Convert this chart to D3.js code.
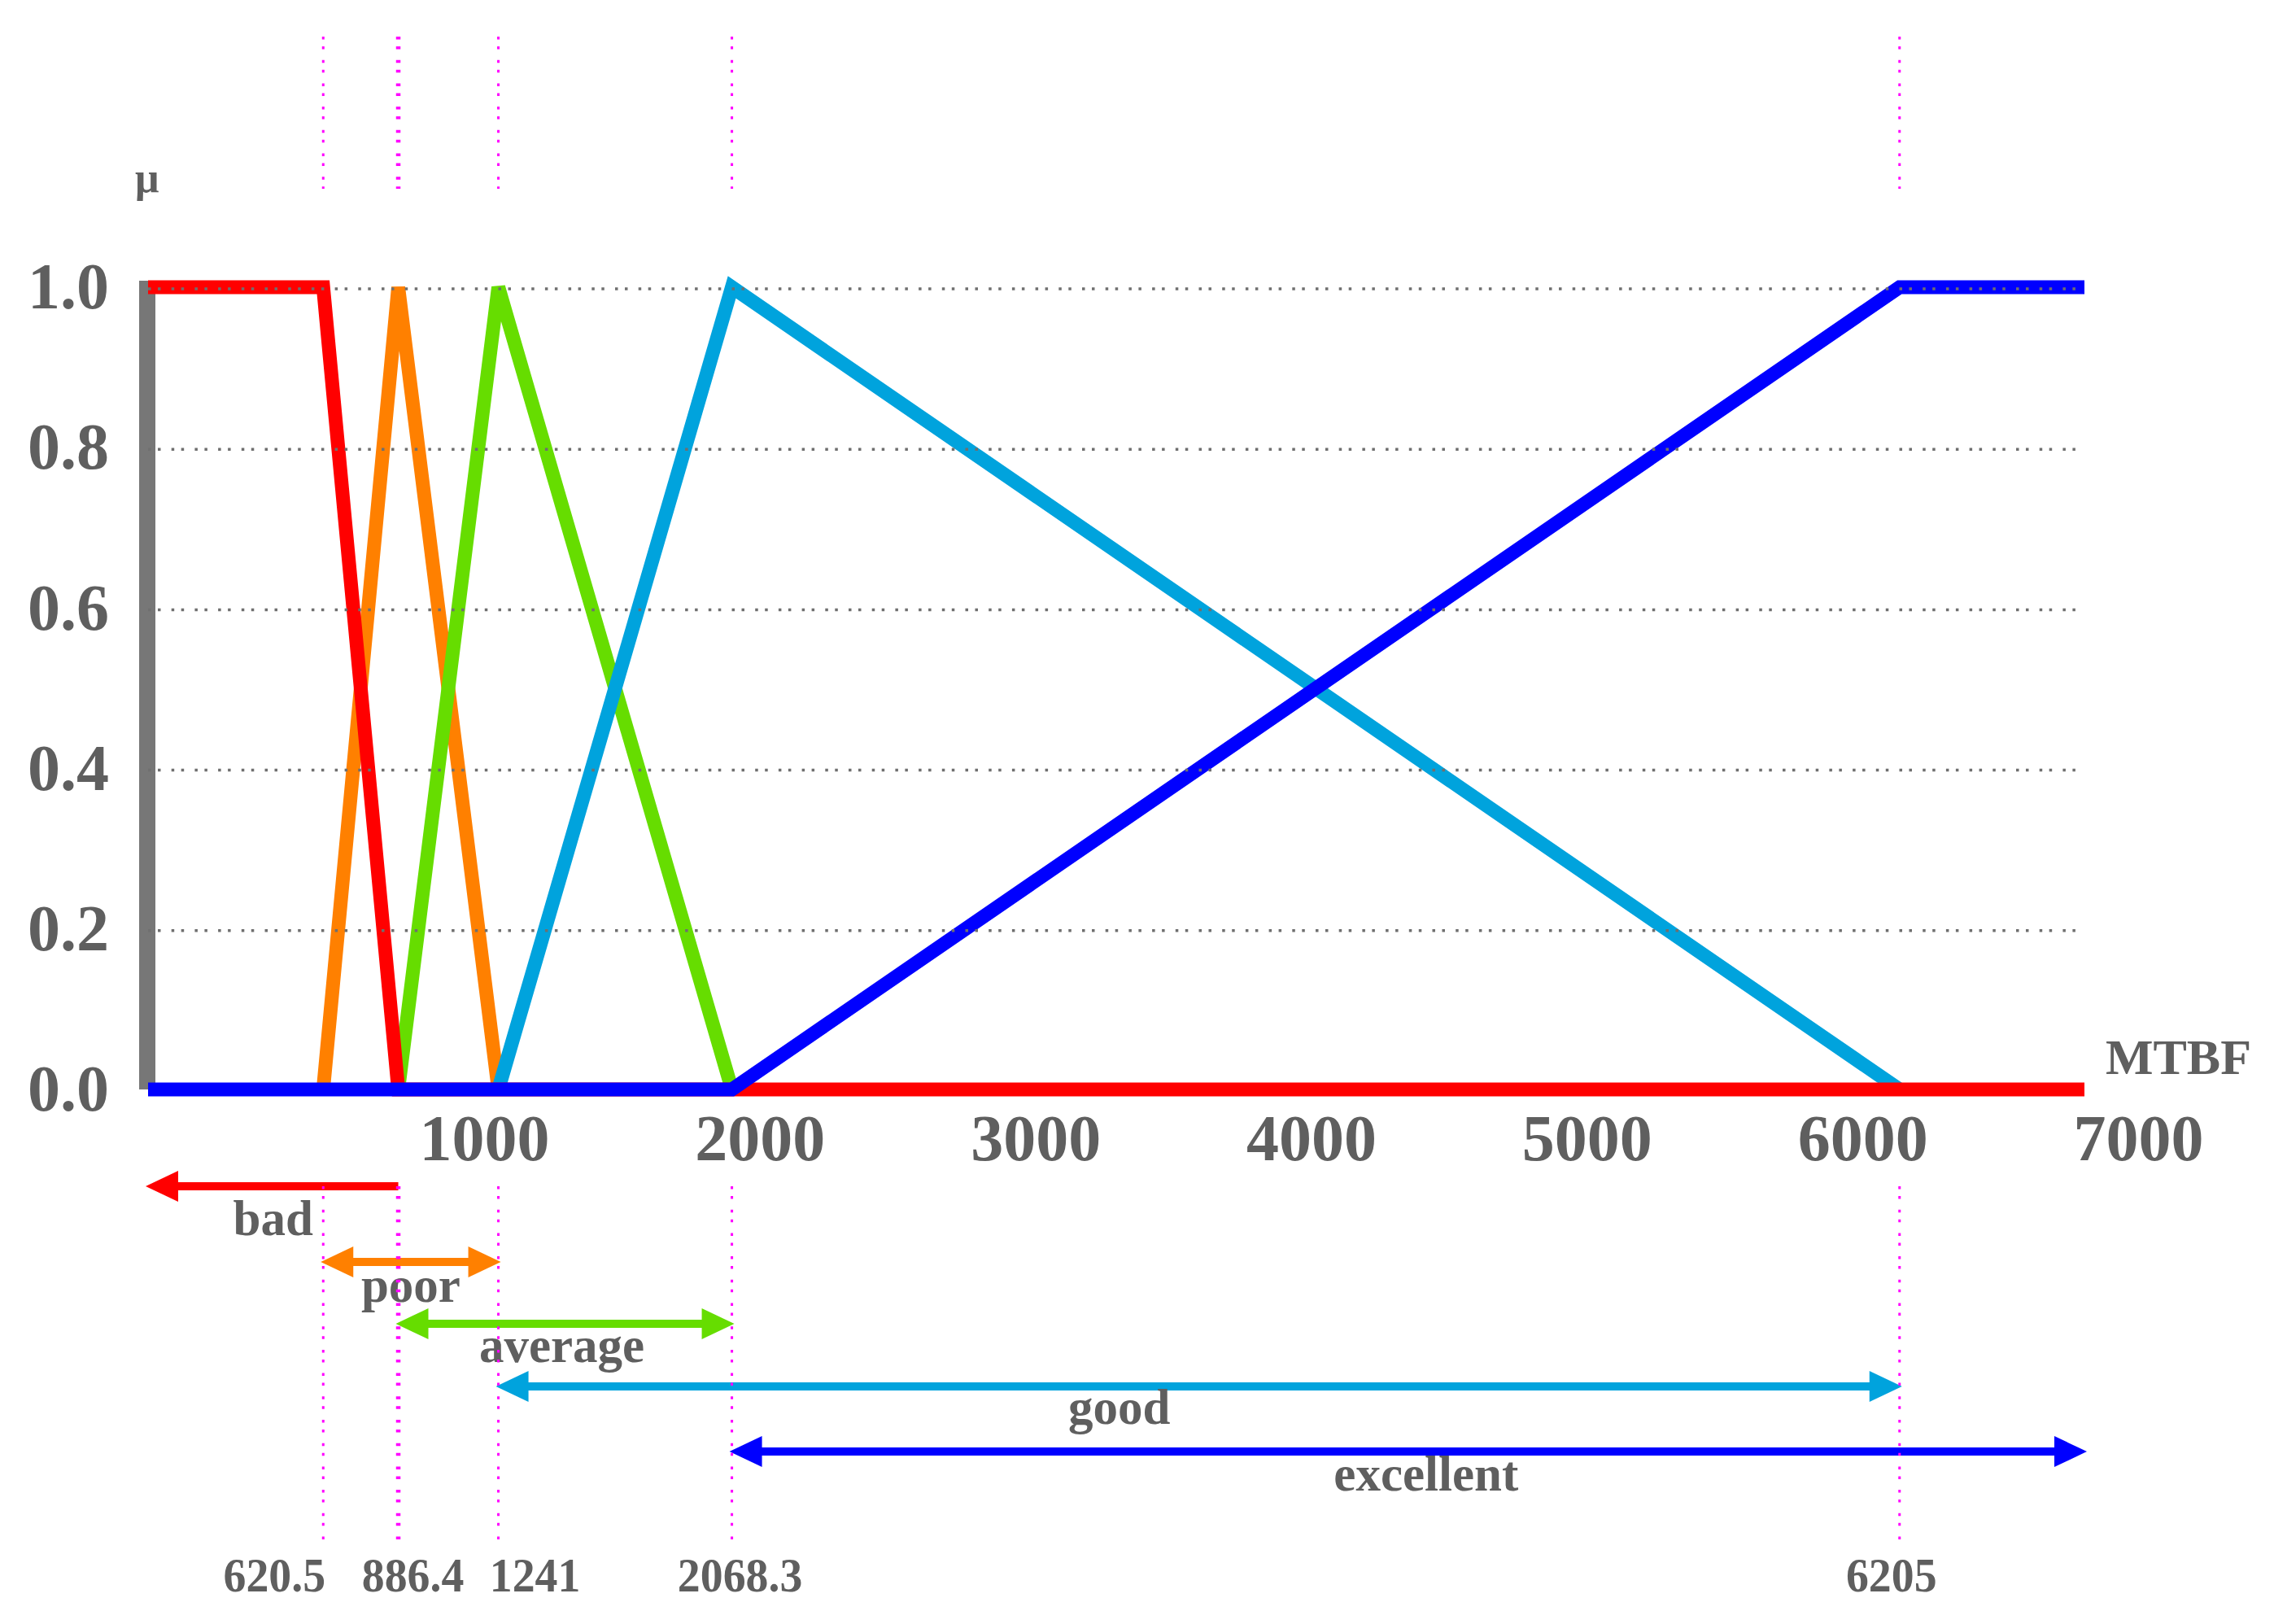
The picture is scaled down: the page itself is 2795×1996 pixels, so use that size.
<!DOCTYPE html>
<html>
<head>
<meta charset="utf-8">
<script src="https://cdn.jsdelivr.net/npm/d3@7"></script>
<style>
body { margin: 0; background: #fff; }
text { font-family: "Liberation Serif", "Times New Roman", serif; font-weight: bold; fill: #5f5f5f; }
</style>
</head>
<body>
<div id="container"></div>
<script>
// membership functions of MTBF, breakpoints as [MTBF, mu]
var badPts = [[0, 1], [620.5, 1], [886.4, 0], [6860, 0]];
var poorPts = [[620.5, 0], [886.4, 1], [1241, 0]];
var averagePts = [[886.4, 0], [1241, 1], [2068.3, 0]];
var goodPts = [[1241, 0], [2068.3, 1], [6205, 0]];
var excellentPts = [[0, 0], [2068.3, 0], [6205, 1], [6860, 1]];

// fuzzy sets and their ranges (arrows under the axis)
var setNames = ["bad", "poor", "average", "good", "excellent"];
var setRanges = [[0, 886.4], [620.5, 1241], [886.4, 2068.3], [1241, 6205], [2068.3, 6860]];
var setTwoHeads = [false, true, true, true, true];

var breakpoints = [620.5, 886.4, 1241, 2068.3, 6205];
var breakLabels = ["620.5", "886.4", "1241", "2068.3", "6205"];

var xTicks = [1000, 2000, 3000, 4000, 5000, 6000, 7000];
var yTicks = [0, 0.2, 0.4, 0.6, 0.8, 1.0];

// styles / layout
var setColors = ["#ff0000", "#ff8000", "#66dd00", "#00a3dd", "#0000ff"];
var arrowY = [1458, 1551, 1627, 1704, 1784];
var nameBase = [1518, 1600, 1674, 1750, 1832];
var nameDx = [0, 0, -4, -98, 22];
var breakDx = [-60, 18, 45, 10, -10];

var width = 2795, height = 1996;

var svg = d3.select("#container").append("svg")
    .attr("width", width)
    .attr("height", height);

svg.append("rect").attr("width", width).attr("height", height).attr("fill", "#fff");

var x = d3.scaleLinear().domain([0, 6860]).range([182, 2562]);
var y = d3.scaleLinear().domain([0, 1]).range([1339, 353]);
// the tick labels of the source figure sit on their own, slightly different spacing
var xLab = d3.scaleLinear().domain([1000, 7000]).range([595, 2628]);

//gray vertical axis
svg.append("line")
    .attr("x1", x(0) - 1).attr("x2", x(0) - 1)
    .attr("y1", y(1) - 8).attr("y2", y(0))
    .attr("stroke", "#777").attr("stroke-width", 20);

//membership lines, drawn in this order so the overlaps match
var line = d3.line().x(function(d) { return x(d[0]); }).y(function(d) { return y(d[1]); });
var series = [
    {pts: poorPts, c: setColors[1]},
    {pts: averagePts, c: setColors[2]},
    {pts: goodPts, c: setColors[3]},
    {pts: badPts, c: setColors[0]},
    {pts: excellentPts, c: setColors[4]}
];
svg.append("g").selectAll("path")
    .data(series)
    .enter().append("path")
    .attr("d", function(d) { return line(d.pts); })
    .attr("fill", "none")
    .attr("stroke", function(d) { return d.c; })
    .attr("stroke-width", 17)
    .attr("stroke-linejoin", "miter")
    .attr("stroke-miterlimit", 2);

//dotted grid on top of the lines
svg.append("g").selectAll("line")
    .data(yTicks.filter(function(v) { return v > 0; }))
    .enter().append("line")
    .attr("x1", x(0)).attr("x2", x(6860))
    .attr("y1", function(d) { return y(d) + 2; })
    .attr("y2", function(d) { return y(d) + 2; })
    .attr("stroke", "#6f6f6f").attr("stroke-width", 3.5)
    .attr("stroke-dasharray", "3.5,8.5,3.5,13.2");

//y axis labels
var yAxis = svg.append("g")
    .attr("transform", "translate(" + x(0) + ",0)")
    .call(d3.axisLeft(y).tickValues(yTicks).tickFormat(d3.format(".1f")).tickSize(0).tickPadding(48));
yAxis.select(".domain").remove();
yAxis.selectAll("text").style("font-size", "80px").attr("font-family", null);

//x axis labels
var xAxis = svg.append("g")
    .attr("transform", "translate(0,1369)")
    .call(d3.axisBottom(xLab).tickValues(xTicks).tickFormat(d3.format("d")).tickSize(0).tickPadding(0));
xAxis.select(".domain").remove();
xAxis.selectAll("text").style("font-size", "80px").attr("font-family", null);

svg.append("text").attr("x", 166).attr("y", 236).style("font-size", "52px").text("μ");
svg.append("text").attr("x", 2588).attr("y", 1320).style("font-size", "62px").text("MTBF");

//range arrows
var headLen = 40, headHalf = 19;
var arrows = svg.append("g");
setNames.forEach(function(name, i) {
    var x1 = x(setRanges[i][0]) - 3, x2 = x(setRanges[i][1]) + (setTwoHeads[i] ? 3 : 0);
    var yy = arrowY[i];
    var g = arrows.append("g").attr("fill", setColors[i]);
    g.append("line")
        .attr("x1", x1 + headLen - 4).attr("x2", setTwoHeads[i] ? x2 - headLen + 4 : x2)
        .attr("y1", yy).attr("y2", yy)
        .attr("stroke", setColors[i]).attr("stroke-width", 10);
    g.append("path").attr("d", "M" + x1 + "," + yy + "L" + (x1 + headLen) + "," + (yy - headHalf) + "L" + (x1 + headLen) + "," + (yy + headHalf) + "Z");
    if (setTwoHeads[i])
        g.append("path").attr("d", "M" + x2 + "," + yy + "L" + (x2 - headLen) + "," + (yy - headHalf) + "L" + (x2 - headLen) + "," + (yy + headHalf) + "Z");

    svg.append("text")
        .attr("x", (x(setRanges[i][0]) + x(setRanges[i][1])) / 2 + nameDx[i])
        .attr("y", nameBase[i])
        .attr("text-anchor", "middle")
        .style("font-size", "61px")
        .text(name);
});

//magenta dotted guides
var guides = svg.append("g");
breakpoints.forEach(function(b, i) {
    var w = b === 886.4 ? 5.5 : 3;
    [[45, 232], [1458, 1892]].forEach(function(seg) {
        guides.append("line")
            .attr("x1", x(b)).attr("x2", x(b))
            .attr("y1", seg[0]).attr("y2", seg[1])
            .attr("stroke", "#ff00ff").attr("stroke-width", w)
            .attr("stroke-dasharray", "3.5,8.5,3.5,13.2");
    });
    svg.append("text")
        .attr("transform", "translate(" + (x(b) + breakDx[i]) + ",1956) scale(0.93,1)")
        .attr("text-anchor", "middle")
        .style("font-size", "60px")
        .text(breakLabels[i]);
});
</script>
</body>
</html>
